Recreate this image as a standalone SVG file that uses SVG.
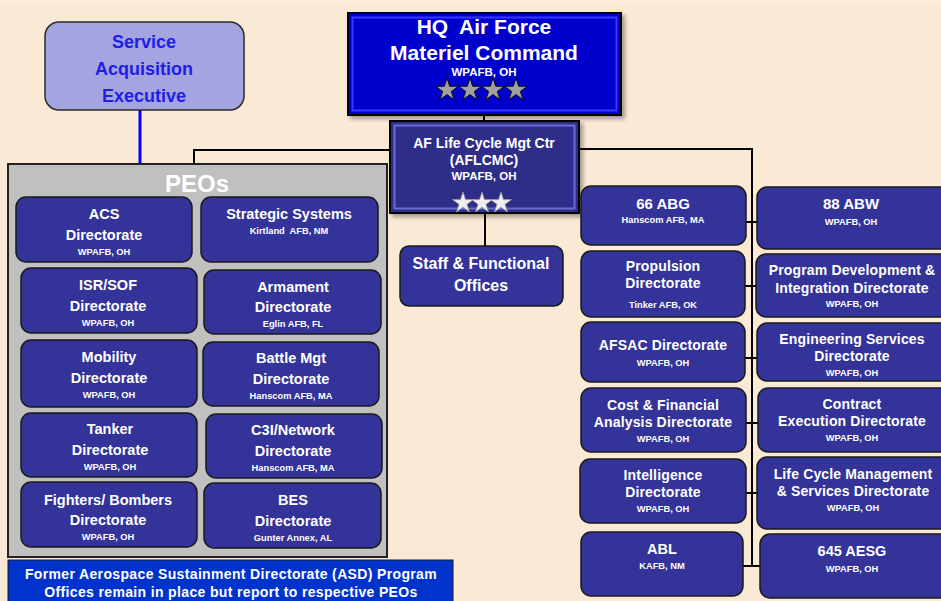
<svg xmlns="http://www.w3.org/2000/svg" width="941" height="601" viewBox="0 0 941 601">
<defs>
<style>
.t{font-family:"Liberation Sans",Arial,sans-serif;font-weight:bold;fill:#fff;text-anchor:middle}
.m{font-size:14.5px}
.r{font-size:14px;letter-spacing:0.15px}
.s{font-size:9.3px}
.nb{fill:#333399;stroke:#1a1a1a;stroke-width:1.5}
.c{stroke:#000;stroke-width:2;fill:none}
</style>
<filter id="sh" x="-10%" y="-10%" width="130%" height="130%">
<feDropShadow dx="3" dy="3" stdDeviation="2" flood-color="#000" flood-opacity="0.35"/>
</filter>
<path id="star" d="M0,-12 L2.70,-3.72 L11.41,-3.71 L4.37,1.42 L7.05,9.71 L0,4.6 L-7.05,9.71 L-4.37,1.42 L-11.41,-3.71 L-2.70,-3.72 Z"/>
</defs>
<rect x="0" y="0" width="941" height="601" fill="#FAE9D4"/>
<rect x="0" y="0" width="941" height="5" fill="#FCEFDC"/>

<g id="connectors">
<path d="M140,110 V164" stroke="#0000FF" stroke-width="3" fill="none"/>
<path class="c" d="M484,115 V121"/>
<path class="c" d="M390,150 H194 V164"/>
<path class="c" d="M579,149 H752 V566"/>
<path class="c" d="M485,213 V246"/>
<path class="c" d="M744,222 H758 M744,286 H758 M744,358 H758 M744,423 H758 M744,493 H758 M742,566 H761"/>
</g>

<g id="sae">
<rect x="45" y="22" width="199" height="88" rx="14" fill="#A4A4E0" stroke="#2a2a2a" stroke-width="1.5"/>
<text class="t" x="144" y="48" style="font-size:18px;fill:#1E1EE8">Service</text>
<text class="t" x="144" y="75" style="font-size:18px;fill:#1E1EE8">Acquisition</text>
<text class="t" x="144" y="102" style="font-size:18px;fill:#1E1EE8">Executive</text>
</g>

<g id="hq">
<rect x="348" y="13" width="273" height="102" fill="#0000CC" stroke="#000" stroke-width="2" filter="url(#sh)"/>
<rect x="352.5" y="17.5" width="264" height="93" fill="none" stroke="#3838FF" stroke-width="2"/>
<text class="t" x="484" y="34" style="font-size:21px" xml:space="preserve">HQ  Air Force</text>
<text class="t" x="484" y="60" style="font-size:21px">Materiel Command</text>
<text class="t" x="484" y="76" style="font-size:11.5px">WPAFB, OH</text>
<g fill="#A0A0A0" stroke="#111" stroke-width="1">
<use href="#star" transform="translate(447,90)"/>
<use href="#star" transform="translate(470,90)"/>
<use href="#star" transform="translate(493,90)"/>
<use href="#star" transform="translate(516,90)"/>
</g>
</g>

<g id="aflcmc">
<rect x="390" y="121" width="189" height="92" fill="#2D2D88" stroke="#000" stroke-width="2" filter="url(#sh)"/>
<rect x="394.5" y="125.5" width="180" height="83" fill="none" stroke="#6A6AD8" stroke-width="2"/>
<text class="t" x="484" y="148" style="font-size:14px">AF Life Cycle Mgt Ctr</text>
<text class="t" x="484" y="165" style="font-size:14px">(AFLCMC)</text>
<text class="t" x="484" y="180" style="font-size:11.5px">WPAFB, OH</text>
<g fill="#EEEEEE" stroke="#999" stroke-width="0.8">
<use href="#star" transform="translate(463,203) scale(0.92)"/>
<use href="#star" transform="translate(482,203) scale(0.92)"/>
<use href="#star" transform="translate(501,203) scale(0.92)"/>
</g>
</g>

<g id="staff">
<rect class="nb" x="400" y="246" width="163" height="60" rx="9"/>
<text class="t" x="481" y="269" style="font-size:16px">Staff &amp; Functional</text>
<text class="t" x="481" y="291" style="font-size:16px">Offices</text>
</g>

<g id="peos">
<rect x="8" y="164" width="379" height="393" fill="#C0C0C0" stroke="#222" stroke-width="2"/>
<text class="t" x="197" y="192" style="font-size:24px">PEOs</text>
</g>

<g id="acs">
<rect class="nb" x="16" y="197" width="176" height="65" rx="10"/>
<text class="t m" x="104" y="219">ACS</text>
<text class="t m" x="104" y="240">Directorate</text>
<text class="t s" x="104" y="255">WPAFB, OH</text>
</g>
<g id="strategic">
<rect class="nb" x="201" y="197" width="177" height="65" rx="10"/>
<text class="t m" x="289" y="219">Strategic Systems</text>
<text class="t s" x="289" y="234" xml:space="preserve">Kirtland  AFB, NM</text>
</g>
<g id="isrsof">
<rect class="nb" x="21" y="268" width="176" height="65" rx="10"/>
<text class="t m" x="108" y="290">ISR/SOF</text>
<text class="t m" x="108" y="311">Directorate</text>
<text class="t s" x="108" y="326">WPAFB, OH</text>
</g>
<g id="armament">
<rect class="nb" x="204" y="270" width="177" height="64" rx="10"/>
<text class="t m" x="293" y="292">Armament</text>
<text class="t m" x="293" y="312">Directorate</text>
<text class="t s" x="293" y="327">Eglin AFB, FL</text>
</g>
<g id="mobility">
<rect class="nb" x="21" y="340" width="176" height="67" rx="10"/>
<text class="t m" x="109" y="362">Mobility</text>
<text class="t m" x="109" y="383">Directorate</text>
<text class="t s" x="109" y="398">WPAFB, OH</text>
</g>
<g id="battlemgt">
<rect class="nb" x="203" y="342" width="176" height="64" rx="10"/>
<text class="t m" x="291" y="363">Battle Mgt</text>
<text class="t m" x="291" y="384">Directorate</text>
<text class="t s" x="291" y="399">Hanscom AFB, MA</text>
</g>
<g id="tanker">
<rect class="nb" x="21" y="413" width="176" height="64" rx="10"/>
<text class="t m" x="110" y="434">Tanker</text>
<text class="t m" x="110" y="455">Directorate</text>
<text class="t s" x="110" y="470">WPAFB, OH</text>
</g>
<g id="c3i">
<rect class="nb" x="206" y="414" width="176" height="64" rx="10"/>
<text class="t m" x="293" y="435">C3I/Network</text>
<text class="t m" x="293" y="456">Directorate</text>
<text class="t s" x="293" y="471">Hanscom AFB, MA</text>
</g>
<g id="fighters">
<rect class="nb" x="21" y="482" width="176" height="65" rx="10"/>
<text class="t m" x="108" y="505">Fighters/ Bombers</text>
<text class="t m" x="108" y="525">Directorate</text>
<text class="t s" x="108" y="540">WPAFB, OH</text>
</g>
<g id="bes">
<rect class="nb" x="204" y="483" width="177" height="65" rx="10"/>
<text class="t m" x="293" y="505">BES</text>
<text class="t m" x="293" y="526">Directorate</text>
<text class="t s" x="293" y="541">Gunter Annex, AL</text>
</g>

<g id="note">
<rect x="8" y="560" width="445" height="45" fill="#0033CC" stroke="#1a1a1a" stroke-width="1"/>
<text class="t" x="231" y="579" style="font-size:14px;letter-spacing:0.35px">Former Aerospace Sustainment Directorate (ASD) Program</text>
<text class="t" x="231" y="597" style="font-size:14px;letter-spacing:0.35px">Offices remain in place but report to respective PEOs</text>
</g>

<g id="abg66">
<rect class="nb" x="581" y="186" width="165" height="59" rx="10"/>
<text class="t" x="663" y="209" style="font-size:15px">66 ABG</text>
<text class="t s" x="663" y="223">Hanscom AFB, MA</text>
</g>
<g id="abw88">
<rect class="nb" x="757" y="187" width="200" height="62" rx="10"/>
<text class="t" x="851" y="209" style="font-size:15px">88 ABW</text>
<text class="t s" x="851" y="225">WPAFB, OH</text>
</g>
<g id="propulsion">
<rect class="nb" x="581" y="251" width="164" height="66" rx="10"/>
<text class="t r" x="663" y="271">Propulsion</text>
<text class="t r" x="663" y="288">Directorate</text>
<text class="t s" x="663" y="308">Tinker AFB, OK</text>
</g>
<g id="pdi">
<rect class="nb" x="756" y="254" width="200" height="63" rx="10"/>
<text class="t r" x="852" y="275">Program Development &amp;</text>
<text class="t r" x="852" y="293">Integration Directorate</text>
<text class="t s" x="852" y="307">WPAFB, OH</text>
</g>
<g id="afsac">
<rect class="nb" x="581" y="322" width="164" height="60" rx="10"/>
<text class="t r" x="663" y="350">AFSAC Directorate</text>
<text class="t s" x="663" y="366">WPAFB, OH</text>
</g>
<g id="engineering">
<rect class="nb" x="757" y="323" width="200" height="58" rx="10"/>
<text class="t r" x="852" y="344">Engineering Services</text>
<text class="t r" x="852" y="361">Directorate</text>
<text class="t s" x="852" y="376">WPAFB, OH</text>
</g>
<g id="cost">
<rect class="nb" x="581" y="388" width="165" height="64" rx="10"/>
<text class="t r" x="663" y="410">Cost &amp; Financial</text>
<text class="t r" x="663" y="427">Analysis Directorate</text>
<text class="t s" x="663" y="442">WPAFB, OH</text>
</g>
<g id="contract">
<rect class="nb" x="758" y="388" width="200" height="64" rx="10"/>
<text class="t r" x="852" y="409">Contract</text>
<text class="t r" x="852" y="426">Execution Directorate</text>
<text class="t s" x="852" y="441">WPAFB, OH</text>
</g>
<g id="intelligence">
<rect class="nb" x="580" y="459" width="166" height="64" rx="10"/>
<text class="t r" x="663" y="480">Intelligence</text>
<text class="t r" x="663" y="497">Directorate</text>
<text class="t s" x="663" y="512">WPAFB, OH</text>
</g>
<g id="lcm">
<rect class="nb" x="757" y="457" width="200" height="72" rx="10"/>
<text class="t r" x="853" y="479">Life Cycle Management</text>
<text class="t r" x="853" y="496">&amp; Services Directorate</text>
<text class="t s" x="853" y="511">WPAFB, OH</text>
</g>
<g id="abl">
<rect class="nb" x="581" y="532" width="162" height="64" rx="10"/>
<text class="t" x="662" y="554" style="font-size:14.5px">ABL</text>
<text class="t s" x="662" y="569">KAFB, NM</text>
</g>
<g id="aesg645">
<rect class="nb" x="760" y="534" width="200" height="64" rx="10"/>
<text class="t" x="852" y="556" style="font-size:14.5px">645 AESG</text>
<text class="t s" x="852" y="572">WPAFB, OH</text>
</g>
</svg>
